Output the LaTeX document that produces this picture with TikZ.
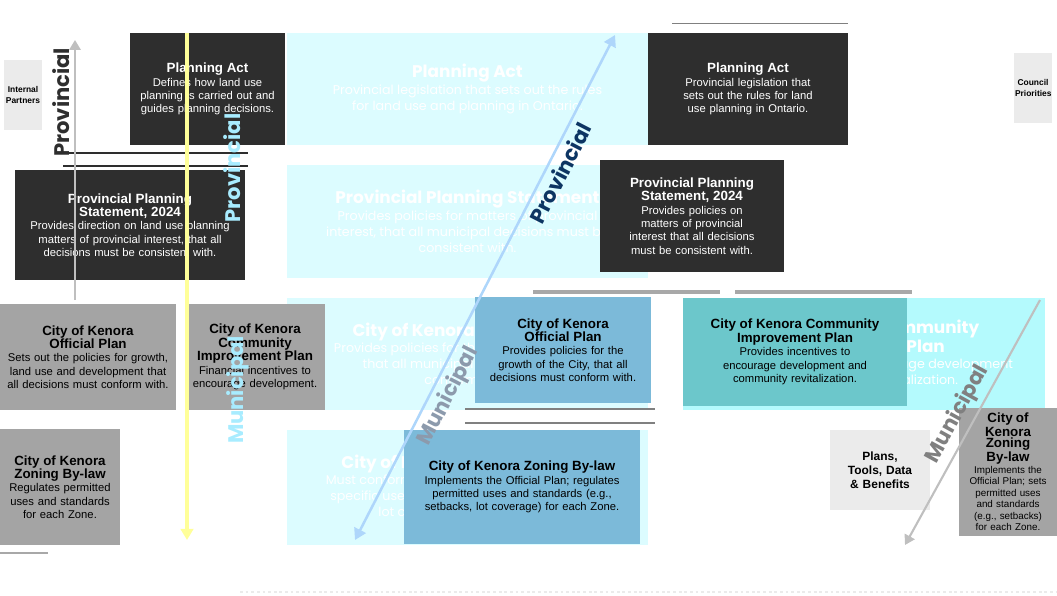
\documentclass[tikz,border=0pt]{standalone}
\usepackage{fontspec}
\setmainfont{Poppins}
\newfontfamily\notefont{Liberation Sans}
\usetikzlibrary{arrows.meta}
\hyphenpenalty=10000
\definecolor{boxcyan}{HTML}{DCFCFF}
\definecolor{cipcyan}{HTML}{B4FAFD}
\definecolor{notedark}{HTML}{2E2E2E}
\definecolor{notegray}{HTML}{A4A4A4}
\definecolor{noteblue}{HTML}{7CBAD9}
\definecolor{noteteal}{HTML}{6CC7CB}
\definecolor{notelight}{HTML}{EBEBEB}
\definecolor{navy}{HTML}{0D3563}
\definecolor{yellowline}{HTML}{FFFF99}
\definecolor{bluearrow}{HTML}{AED6FB}
\definecolor{tagcyan}{HTML}{A8ECFF}
\definecolor{munigray}{HTML}{8C9AAC}
\definecolor{rulegray}{HTML}{A8A8A8}
\newcommand\boxtitle[1]{{\bfseries\fontsize{12}{15}\selectfont #1}\\}
\newcommand\notetitle[1]{{\bfseries\fontsize{9.5}{11}\selectfont #1}\\}
\begin{document}
\begin{tikzpicture}
		[x=0.025cm,y=-0.025cm,
			mainbox/.style={fill=boxcyan,text=white,align=center,minimum width=9.025cm,minimum height=2.8cm,font=\fontsize{9}{11.5}\selectfont},
			note/.style={align=center,inner xsep=4pt,font=\notefont\fontsize{8}{9.5}\selectfont},
			darknote/.style={note,fill=notedark,text=white,text width=#1},
			graynote/.style={note,fill=notegray,text=black,text width=#1},
			bluenote/.style={note,fill=noteblue,text=black,text width=#1},
			tealnote/.style={note,fill=noteteal,text=black,text width=#1},
			lightnote/.style={note,fill=notelight,text=black,text width=#1,font=\notefont\bfseries\fontsize{8.5}{10}\selectfont},
			sidetag/.style={font=\bfseries\fontsize{15}{15}\selectfont}]
	\useasboundingbox (0,0) rectangle (1057,595);
	% main column
	\node[mainbox] (pa) at (467.5,89) {\boxtitle{Planning Act}Provincial legislation that sets out the rules\\for land use and planning in Ontario.};
	\node[mainbox,minimum height=2.825cm] (pps) at (467.5,221.5) {\boxtitle{Provincial Planning Statement}Provides policies for matters of provincial\\interest, that all municipal decisions must be\\consistent with.};
	\node[mainbox] (op) at (467.5,354) {\boxtitle{City of Kenora Official Plan}Provides policies for the growth of the City,\\that all municipal decisions must\\conform with.};
	\node[mainbox,minimum height=2.875cm] (zbl) at (467.5,487.5) {\boxtitle{City of Kenora Zoning By-law}Must conform to the Official Plan; establishes\\specific uses and standards (e.g., setbacks,\\lot coverage) for each Zone.};
	\node[mainbox,fill=cipcyan,minimum width=9.05cm] (cip) at (864,354) {\boxtitle{City of Kenora Community}\boxtitle{Improvement Plan}Provides incentives to encourage development\\and community revitalization.};
	% notes
	\node[darknote=3.6cm,minimum height=2.8cm] (pan1) at (207.5,89) {\notetitle{Planning Act}Defines how land use planning is carried out and guides planning decisions.};
	\node[darknote=5.45cm,minimum height=2.75cm] (ppsn1) at (130,225) {\notetitle{Provincial Planning}\notetitle{Statement, 2024}Provides direction on land use planning matters of provincial interest, that all decisions must be consistent with.};
	\node[darknote=4.7cm,minimum height=2.8cm] (pan2) at (748,89) {\notetitle{Planning Act}Provincial legislation that sets out the rules for land use planning in Ontario.};
	\node[darknote=4.3cm,minimum height=2.8cm] (ppsn2) at (692,216) {\notetitle{Provincial Planning}\notetitle{Statement, 2024}Provides policies on matters of provincial interest that all decisions must be consistent with.};
	\node[graynote=4.1cm,minimum height=2.625cm] (opn1) at (88,357) {\notetitle{City of Kenora}\notetitle{Official Plan}Sets out the policies for growth, land use and development that all decisions must conform with.};
	\node[graynote=3.2cm,minimum height=2.625cm] (cipn1) at (255,357) {\notetitle{City of Kenora Community}\notetitle{Improvement Plan}Financial incentives to encourage development.};
	\node[graynote=2.7cm,minimum height=2.875cm] (zbln1) at (60,487) {\notetitle{City of Kenora}\notetitle{Zoning By-law}Regulates permitted uses and standards for each Zone.};
	\node[graynote=2.15cm,minimum height=2.875cm,font=\notefont\fontsize{7}{8.2}\selectfont] (zbln2) at (1008,472) {\notetitle{City of Kenora}\notetitle{Zoning By-law}Implements the Official Plan; sets permitted uses and standards (e.g., setbacks) for each Zone.};
	\node[bluenote=4.1cm,minimum height=2.625cm] (opn2) at (563,350) {\notetitle{City of Kenora}\notetitle{Official Plan}Provides policies for the growth of the City, that all decisions must conform with.};
	\node[bluenote=5.6cm,minimum height=2.825cm] (zbln3) at (522,487) {\notetitle{City of Kenora Zoning By-law}Implements the Official Plan; regulates permitted uses and standards (e.g., setbacks, lot coverage) for each Zone.};
	\node[tealnote=5.3cm,minimum height=2.7cm] (cipn2) at (795,352) {\notetitle{City of Kenora Community}\notetitle{Improvement Plan}Provides incentives to encourage development and community revitalization.};
	\node[lightnote=2.2cm,minimum height=2cm] (tools) at (880,470) {Plans,\\Tools, Data\\\& Benefits};
	\node[lightnote=0.9cm,minimum height=1.75cm,inner xsep=1pt,font=\notefont\bfseries\fontsize{6}{7.5}\selectfont] (council) at (1033,88) {Council\\Priorities};
	\node[lightnote=0.9cm,minimum height=1.75cm,inner xsep=1pt,font=\notefont\bfseries\fontsize{6}{7.5}\selectfont] (partners) at (23,95) {Internal\\Partners};
	% rules
	\draw[notedark,line width=1.5pt] (63,153) -- (248,153);
	\draw[notedark,line width=1.5pt] (63,166) -- (248,166);
	\draw[gray,line width=0.6pt] (672,23) -- (848,23);
	\draw[rulegray,line width=2.5pt] (533,292) -- (720,292);
	\draw[rulegray,line width=2.5pt] (735,292) -- (912,292);
	\draw[gray,line width=0.8pt] (465,409) -- (655,409);
	\draw[gray,line width=0.8pt] (465,423) -- (655,423);
	\draw[rulegray,line width=1pt] (0,553) -- (48,553);
	\draw[notelight,line width=2pt,dotted] (240,592) -- (1057,592);
	% arrows and tags
	\coordinate (ytop) at (187,33);
	\coordinate (ybot) at (187,540);
	\draw[yellowline,line width=2.2pt,-{Triangle[width=9pt,length=8pt]}] (ytop) -- (ybot);
	\coordinate (gtop) at (75,40);
	\coordinate (gbot) at (75,300);
	\draw[lightgray,line width=1.5pt,-{Triangle[width=8pt,length=7pt]}] (gbot) -- node[pos=0.76,sloped,above,sidetag,text=notedark]{Provincial} (gtop);
	\coordinate (dtop) at (615,35);
	\coordinate (dbot) at (355,540);
	\draw[bluearrow,line width=1.8pt,{Triangle[width=9pt,length=8pt]}-{Triangle[width=9pt,length=8pt]}] (dbot) -- node[pos=0.3,sloped,below,sidetag,text=munigray]{Municipal} node[pos=0.74,sloped,below,sidetag,text=navy]{Provincial} (dtop);
	\coordinate (rtop) at (1040,300);
	\coordinate (rbot) at (905,545);
	\draw[lightgray,line width=1.5pt,-{Triangle[width=8pt,length=7pt]}] (rtop) -- node[pos=0.5,sloped,above,sidetag,text=gray]{Municipal} (rbot);
	\node[sidetag,text=tagcyan,rotate=90] (provtag) at (232,168) {Provincial};
	\node[sidetag,text=tagcyan,rotate=90] (munitag) at (238,390) {Municipal};
\end{tikzpicture}
\end{document}
